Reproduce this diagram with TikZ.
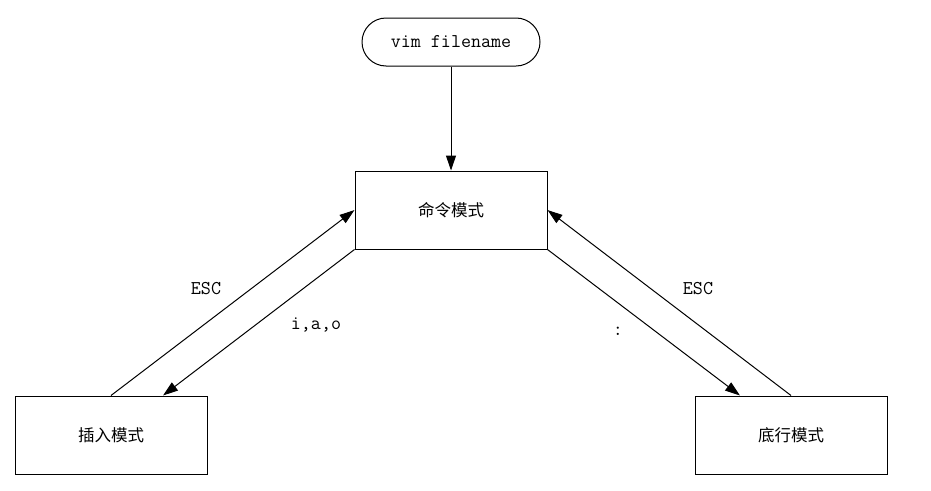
\documentclass[tikz,border=0pt]{standalone}
\usepackage{fontspec}
\newfontfamily\cjk{Noto Sans CJK SC}
\usetikzlibrary{arrows.meta,shapes.misc}
\begin{document}
\begin{tikzpicture}[x=1pt,y=-1pt,
  box/.style={draw,line width=1pt,minimum width=192pt,minimum height=78pt,inner sep=0pt,font=\cjk\fontsize{16.5}{19}\selectfont},
  startbox/.style={draw,line width=1pt,rounded rectangle,minimum width=178pt,minimum height=48pt,inner sep=0pt,font=\ttfamily\fontsize{19.5}{22}\selectfont},
  arr/.style={line width=1pt,-{Triangle[length=15pt,width=10pt]}},
  lbl/.style={font=\ttfamily\fontsize{19.5}{22}\selectfont,inner sep=0pt}]
\useasboundingbox (0,0) rectangle (931,490);
\node[startbox] (start) at (451,42) {vim filename};
\node[box] (cmd) at (451,210) {命令模式};
\node[box] (ins) at (111,435) {插入模式};
\node[box] (bot) at (791,435) {底行模式};
\draw[arr] (start.south) -- (cmd.north);
\draw[arr] (ins.north) -- (cmd.west);
\draw[arr] (cmd.south west) -- ([xshift=52pt]ins.north);
\draw[arr] (cmd.south east) -- ([xshift=-51pt]bot.north);
\draw[arr] (bot.north) -- (cmd.east);
\node[lbl] (l1) at (206,289) {ESC};
\node[lbl] (l2) at (316,325) {i,a,o};
\node[lbl] (l3) at (698,289) {ESC};
\node[lbl] (l4) at (618,331) {:};
\end{tikzpicture}
\end{document}
